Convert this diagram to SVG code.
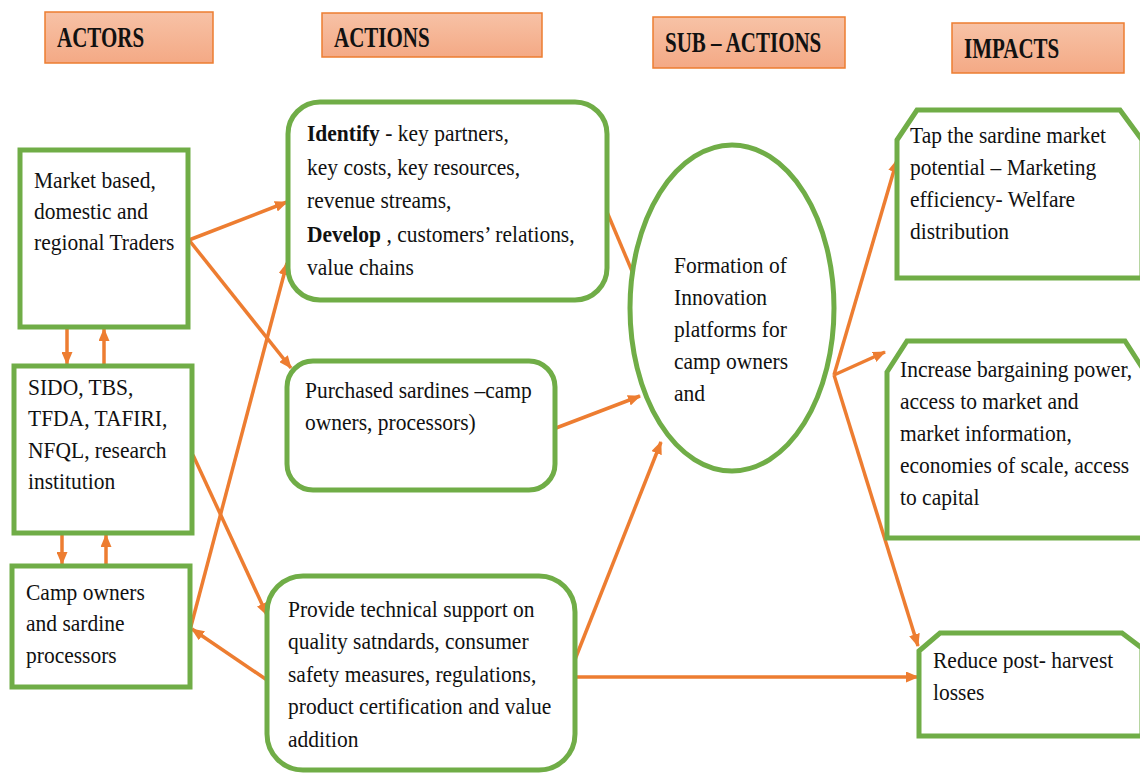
<svg xmlns="http://www.w3.org/2000/svg" width="1140" height="774" viewBox="0 0 1140 774">
  <defs>
    <linearGradient id="hdrFill" x1="0" y1="0" x2="0" y2="1">
      <stop offset="0" stop-color="#F7C2A6"/>
      <stop offset="1" stop-color="#F4A985"/>
    </linearGradient>
    <marker id="ah" markerWidth="13" markerHeight="11" refX="12" refY="5.5" orient="auto" markerUnits="userSpaceOnUse">
      <path d="M0,0 L13,5.5 L0,11 z" fill="#ED7D31"/>
    </marker>
    <style>
      .hdr rect { fill: url(#hdrFill); stroke: #ED7D31; stroke-width: 1.5; }
      .hdr text { font-family: "Liberation Serif", "Times New Roman", serif; font-weight: bold; font-size: 21px; fill: #111; }
      .box { fill: #fff; stroke: #70AD47; stroke-width: 5; }
      .txt { font-family: "Liberation Serif", "Times New Roman", serif; font-size: 21.5px; fill: #111; }
      .b { font-weight: bold; }
      .conn line, .conn path { stroke: #ED7D31; stroke-width: 3.5; fill: none; marker-end: url(#ah); }
    </style>
  </defs>

  <rect width="1140" height="774" fill="#fff"/>

  <!-- column headers -->
  <g id="hdr-actors" class="hdr">
    <rect x="45" y="12" width="168" height="51"/>
    <text transform="translate(57,47) scale(1,1.4)">ACTORS</text>
  </g>
  <g id="hdr-actions" class="hdr">
    <rect x="322" y="13" width="220" height="44"/>
    <text transform="translate(334,47) scale(1,1.4)">ACTIONS</text>
  </g>
  <g id="hdr-subactions" class="hdr">
    <rect x="653" y="17" width="192" height="51"/>
    <text transform="translate(665,52) scale(1,1.4)">SUB – ACTIONS</text>
  </g>
  <g id="hdr-impacts" class="hdr">
    <rect x="952" y="23" width="172" height="50"/>
    <text transform="translate(964,58) scale(1,1.4)">IMPACTS</text>
  </g>

  <!-- connectors -->
  <g id="connectors" class="conn">
    <line x1="189" y1="240" x2="287" y2="202"/>
    <line x1="189" y1="240" x2="291" y2="368"/>
    <line x1="193" y1="455" x2="267" y2="615"/>
    <line x1="190" y1="630" x2="287" y2="263"/>
    <line x1="267" y1="680" x2="192" y2="629"/>
    <line x1="67" y1="323" x2="67" y2="364"/>
    <line x1="104" y1="365" x2="104" y2="329"/>
    <line x1="62" y1="535" x2="62" y2="564"/>
    <line x1="106" y1="566" x2="106" y2="535"/>
    <line x1="607" y1="212" x2="640" y2="290"/>
    <line x1="556" y1="428" x2="640" y2="396"/>
    <line x1="574" y1="662" x2="661" y2="442"/>
    <line x1="575" y1="677" x2="918" y2="677"/>
    <line x1="834" y1="375" x2="897" y2="160"/>
    <line x1="834" y1="375" x2="885" y2="352"/>
    <line x1="834" y1="375" x2="918" y2="646"/>
  </g>

  <!-- actors -->
  <g id="actor-traders">
    <rect class="box" x="20" y="150" width="168" height="177"/>
    <text class="txt" transform="translate(34,188) scale(1,1.1)">
      <tspan x="0" y="0">Market based,</tspan>
      <tspan x="0" dy="28.2">domestic and</tspan>
      <tspan x="0" dy="28.2">regional Traders</tspan>
    </text>
  </g>
  <g id="actor-institutions">
    <rect class="box" x="14" y="366" width="178" height="167"/>
    <text class="txt" transform="translate(28,395) scale(1,1.1)">
      <tspan x="0" y="0">SIDO, TBS,</tspan>
      <tspan x="0" dy="28.6">TFDA, TAFIRI,</tspan>
      <tspan x="0" dy="28.6">NFQL, research</tspan>
      <tspan x="0" dy="28.6">institution</tspan>
    </text>
  </g>
  <g id="actor-camp-owners">
    <rect class="box" x="12" y="566" width="178" height="121"/>
    <text class="txt" transform="translate(26,600) scale(1,1.1)">
      <tspan x="0" y="0">Camp owners</tspan>
      <tspan x="0" dy="28.6">and sardine</tspan>
      <tspan x="0" dy="28.6">processors</tspan>
    </text>
  </g>

  <!-- actions -->
  <g id="action-identify">
    <rect class="box" x="288" y="102" width="319" height="198" rx="32"/>
    <text class="txt" transform="translate(307,141) scale(1,1.1)">
      <tspan x="0" y="0"><tspan class="b">Identify</tspan> - key partners,</tspan>
      <tspan x="0" dy="30.5">key costs, key resources,</tspan>
      <tspan x="0" dy="30.5">revenue streams,</tspan>
      <tspan x="0" dy="30.5"><tspan class="b">Develop</tspan> , customers’ relations,</tspan>
      <tspan x="0" dy="30.5">value chains</tspan>
    </text>
  </g>
  <g id="action-purchase">
    <rect class="box" x="287" y="361" width="268" height="129" rx="26"/>
    <text class="txt" transform="translate(305,398) scale(1,1.1)">
      <tspan x="0" y="0">Purchased sardines –camp</tspan>
      <tspan x="0" dy="29">owners, processors)</tspan>
    </text>
  </g>
  <g id="action-support">
    <rect class="box" x="267" y="576" width="308" height="194" rx="36"/>
    <text class="txt" transform="translate(288,617) scale(1,1.1)">
      <tspan x="0" y="0">Provide technical support on</tspan>
      <tspan x="0" dy="29.5">quality satndards, consumer</tspan>
      <tspan x="0" dy="29.5">safety measures, regulations,</tspan>
      <tspan x="0" dy="29.5">product certification and value</tspan>
      <tspan x="0" dy="29.5">addition</tspan>
    </text>
  </g>

  <!-- sub-action -->
  <g id="subaction-platforms">
    <ellipse class="box" cx="732" cy="308" rx="102" ry="163"/>
    <text class="txt" transform="translate(674,273) scale(1,1.1)">
      <tspan x="0" y="0">Formation of</tspan>
      <tspan x="0" dy="29">Innovation</tspan>
      <tspan x="0" dy="29">platforms for</tspan>
      <tspan x="0" dy="29">camp owners</tspan>
      <tspan x="0" dy="29">and</tspan>
    </text>
  </g>

  <!-- impacts -->
  <g id="impact-market">
    <path class="box" d="M897,140 L917,110 L1120,110 L1142,140 L1142,278 L897,278 Z"/>
    <text class="txt" transform="translate(910,143) scale(1,1.1)">
      <tspan x="0" y="0">Tap the sardine market</tspan>
      <tspan x="0" dy="29.2">potential – Marketing</tspan>
      <tspan x="0" dy="29.2">efficiency- Welfare</tspan>
      <tspan x="0" dy="29.2">distribution</tspan>
    </text>
  </g>
  <g id="impact-bargaining">
    <path class="box" d="M887,372 L907,341 L1125,341 L1145,372 L1145,538 L887,538 Z"/>
    <text class="txt" transform="translate(900,377) scale(1,1.1)">
      <tspan x="0" y="0">Increase bargaining power,</tspan>
      <tspan x="0" dy="29.2">access to market and</tspan>
      <tspan x="0" dy="29.2">market information,</tspan>
      <tspan x="0" dy="29.2">economies of scale, access</tspan>
      <tspan x="0" dy="29.2">to capital</tspan>
    </text>
  </g>
  <g id="impact-losses">
    <path class="box" d="M919,651 L940,633 L1122,633 L1142,648 L1142,736 L919,736 Z"/>
    <text class="txt" transform="translate(933,668) scale(1,1.1)">
      <tspan x="0" y="0">Reduce post- harvest</tspan>
      <tspan x="0" dy="29.2">losses</tspan>
    </text>
  </g>
</svg>
